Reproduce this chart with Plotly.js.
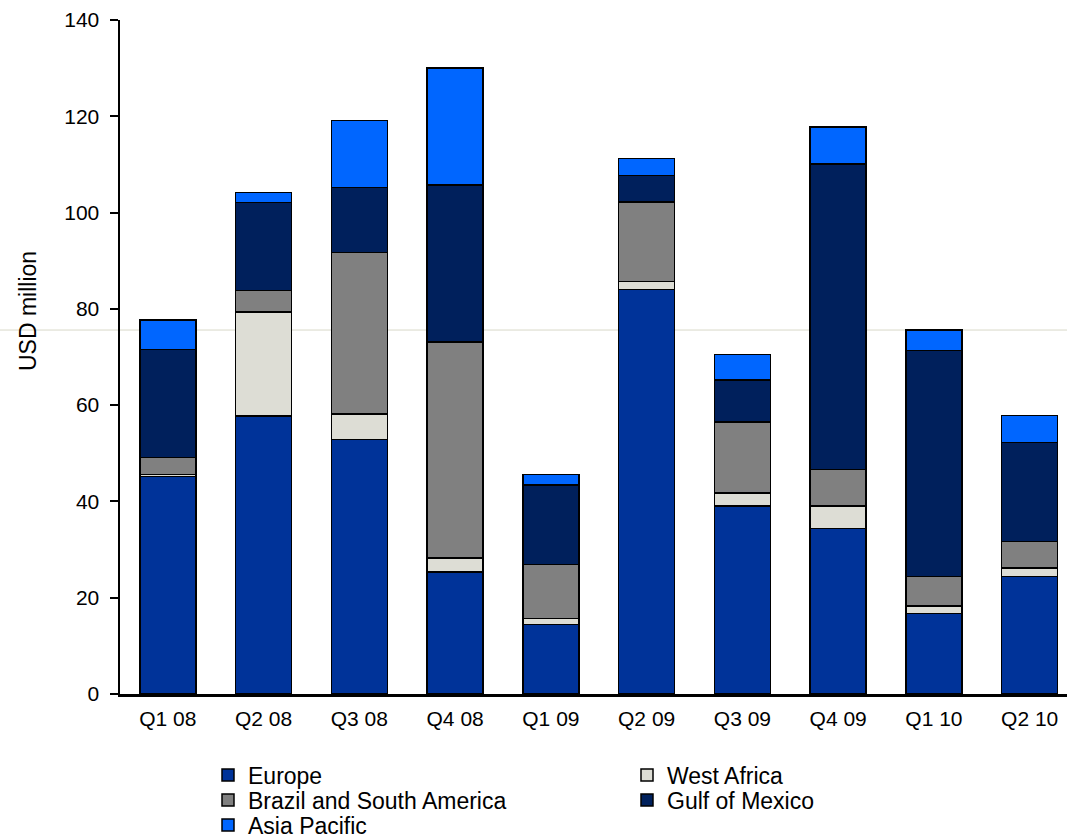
<!DOCTYPE html>
<html>
<head>
<meta charset="utf-8">
<script src="https://cdn.plot.ly/plotly-3.0.1.min.js"></script>
<style>html,body{margin:0;padding:0;background:#fff;}#chart{width:1067px;height:838px;}</style>
</head>
<body>
<div id="chart"></div>
<script>
const quarters = ["Q1 08","Q2 08","Q3 08","Q4 08","Q1 09","Q2 09","Q3 09","Q4 09","Q1 10","Q2 10"];
const europe      = [45.2, 57.7, 52.9, 25.3, 14.4, 84.0, 39.1, 34.4, 16.7, 24.4];
const westAfrica  = [0.4, 21.7, 5.3, 2.9, 1.3, 1.7, 2.7, 4.7, 1.6, 1.8];
const brazilSA    = [3.5, 4.4, 33.5, 44.9, 11.2, 16.5, 14.7, 7.5, 6.1, 5.5];
const gulfMexico  = [22.5, 18.3, 13.5, 32.6, 16.5, 5.5, 8.7, 63.5, 46.9, 20.5];
const asiaPacific = [6.1, 2.1, 13.9, 24.3, 2.2, 3.5, 5.3, 7.7, 4.3, 5.7];
const yTitle = "USD million";

const seriesNames = ["Europe","West Africa","Brazil and South America","Gulf of Mexico","Asia Pacific"];
const seriesData = [europe, westAfrica, brazilSA, gulfMexico, asiaPacific];
const seriesColors = ["#003399","#DDDDD5","#808080","#00205C","#0066FF"];
const legendIds = ["legend","legend2","legend3","legend4","legend5"];

const traces = seriesNames.map((n,i)=>({
  type:'bar', name:n, x:quarters, y:seriesData[i], legend:legendIds[i],
  marker:{color:seriesColors[i], line:{color:'#000', width:1.5}}
}));

const font = "'Liberation Sans', Arial, sans-serif";
const W = 1067, H = 838;
// legend anchor points (symbol centre) in pixels
const legPos = [[228,775],[647,775],[228,800],[647,800],[228,825]];
function legendAt(p){
  return {xref:'container', yref:'container', x:(p[0]-20)/W, y:1-p[1]/H,
    xanchor:'left', yanchor:'middle', font:{size:23, family:font, color:'#000'},
    bgcolor:'rgba(0,0,0,0)', borderwidth:0, itemwidth:30};
}

const layout = {
  width:W, height:H,
  margin:{l:120, r:0, t:20, b:144, autoexpand:false},
  barmode:'stack', bargap:0.415,
  paper_bgcolor:'#fff', plot_bgcolor:'rgba(0,0,0,0)',
  font:{family:font, color:'#000', size:21},
  showlegend:true,
  xaxis:{type:'category', range:[-0.5, 9.39], showline:true, linecolor:'#000', linewidth:3,
    ticks:'', tickfont:{size:21, family:font}, ticklabelstandoff:4,
    showgrid:false, zeroline:false, fixedrange:true},
  yaxis:{range:[0,140], dtick:20, showline:true, linecolor:'#000', linewidth:2.5,
    ticks:'outside', ticklen:8, tickwidth:2, tickcolor:'#000', ticklabelstandoff:6,
    tickfont:{size:21, family:font}, showgrid:false, zeroline:false},
  annotations:[{text:yTitle, xref:'paper', yref:'paper', x:(28-120)/947, y:(694-311)/674,
    xanchor:'center', yanchor:'middle', textangle:-90, showarrow:false,
    font:{size:23, family:font, color:'#000'}}],
  shapes:[{type:'line', xref:'paper', yref:'paper', x0:-0.127, x1:1, y0:0.54, y1:0.54,
    line:{color:'#D8D8C8', width:1}, layer:'below'}]
};
legendIds.forEach((id,i)=>{ layout[id] = legendAt(legPos[i]); });

Plotly.newPlot('chart', traces, layout, {displayModeBar:false, staticPlot:true});
</script>
</body>
</html>
